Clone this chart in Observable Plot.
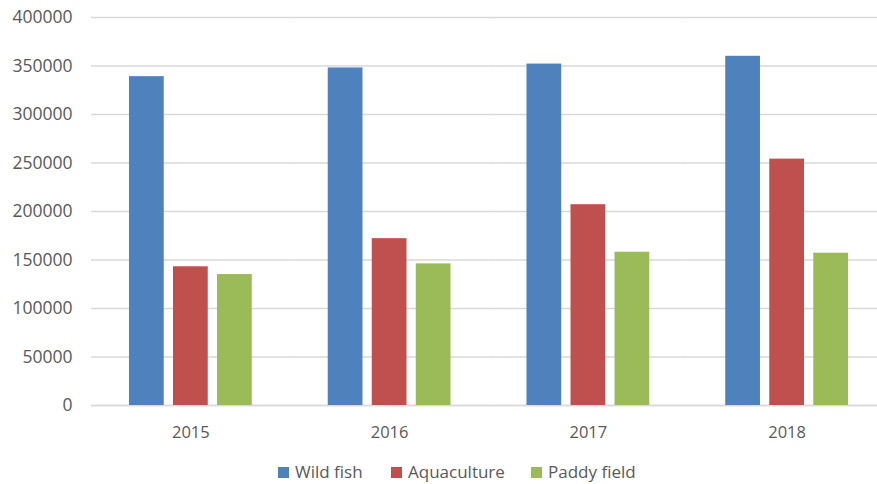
<!DOCTYPE html>
<html>
<head>
<meta charset="utf-8">
<script src="https://cdn.jsdelivr.net/npm/d3@7"></script>
<script src="https://cdn.jsdelivr.net/npm/@observablehq/plot@0.6"></script>
<style>
  html, body { margin: 0; padding: 0; background: #fff; }
  body { width: 877px; height: 484px; overflow: hidden; font-family: "Open Sans", sans-serif; position: relative; }
  #chart { width: 877px; height: 450px; overflow: hidden; }
  #chart svg { display: block; max-width: none !important; }
  #legend { position: absolute; left: 0; top: 450px; width: 877px; height: 34px; font-size: 17px; color: #595959; }
  #legend .item { position: absolute; top: 11px; height: 22px; display: flex; align-items: center; gap: 6px; }
  #legend .swatch { width: 11px; height: 11px; display: inline-block; }
  #legend .label { line-height: 22px; }
</style>
</head>
<body>
<div id="chart"></div>
<div id="legend"></div>
<script>
// Annual catch by source, 2015–2018
const years = ["2015", "2016", "2017", "2018"];
const seriesNames = ["Wild fish", "Aquaculture", "Paddy field"];
const wildFish = [339000, 348000, 352000, 360000];
const aquaculture = [143000, 172000, 207000, 254000];
const paddyField = [135000, 146000, 158000, 157000];
const yTicks = [0, 50000, 100000, 150000, 200000, 250000, 300000, 350000, 400000];
const seriesColors = ["#4F81BD", "#C0504D", "#9BBB59"];

// Long-form table for the grouped bars
const seriesValues = [wildFish, aquaculture, paddyField];
const rows = [];
years.forEach((year, i) => {
  seriesNames.forEach((name, j) => {
    rows.push({ year, series: name, value: seriesValues[j][i] });
  });
});

const gridColor = "#d9d9d9";
const textColor = "#595959";

const chart = Plot.plot({
  width: 886,
  height: 450,
  marginLeft: 91,
  marginRight: 0,
  marginTop: 17,
  marginBottom: 45,
  style: { fontFamily: "Open Sans", fontSize: "16px", color: textColor, background: "#fff" },
  fx: { domain: years, padding: 0, label: null, axis: null, round: false },
  x: { domain: seriesNames, paddingInner: 0.211, paddingOuter: 0.863, axis: null, round: false },
  y: { domain: [0, 400000], label: null },
  color: { domain: seriesNames, range: seriesColors },
  marks: [
    Plot.gridY(yTicks, { stroke: gridColor, strokeOpacity: 1, strokeWidth: 1.3 }),
    Plot.ruleY([0], { stroke: gridColor, strokeWidth: 1.3 }),
    Plot.barY(rows, { fx: "year", x: "series", y: "value", fill: "series" }),
    Plot.axisY({
      ticks: yTicks, tickSize: 0, tickPadding: 19, label: null,
      tickFormat: d => String(d), fontSize: 17.5, fill: textColor
    }),
    Plot.axisFx({
      anchor: "bottom", tickSize: 0, tickPadding: 21, label: null,
      fontSize: 16.5, fill: textColor
    })
  ]
});
document.getElementById("chart").appendChild(chart);

// Legend row below the plot
const legendLeft = [278, 391, 531];
const legend = document.getElementById("legend");
seriesNames.forEach((name, i) => {
  const item = document.createElement("span");
  item.className = "item";
  item.style.left = legendLeft[i] + "px";
  const sw = document.createElement("span");
  sw.className = "swatch";
  sw.style.background = seriesColors[i];
  const label = document.createElement("span");
  label.className = "label";
  label.textContent = name;
  item.appendChild(sw);
  item.appendChild(label);
  legend.appendChild(item);
});
</script>
</body>
</html>
